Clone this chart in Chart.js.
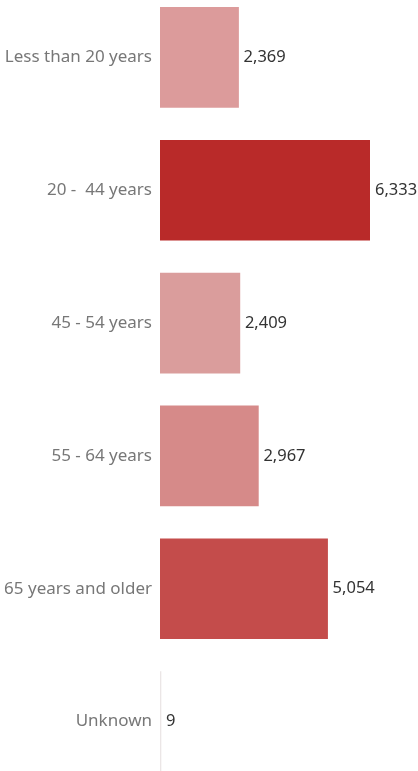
<!DOCTYPE html>
<html>
<head>
<meta charset="utf-8">
<script src="https://cdn.jsdelivr.net/npm/chart.js@4"></script>
<style>
  html, body { margin: 0; padding: 0; background: #fff; overflow: hidden; }
  #wrap { position: absolute; left: 0; top: -9px; width: 418px; height: 797px; }
</style>
</head>
<body>
<div id="wrap"><canvas id="myChart"></canvas></div>
<script>
// age groups and counts
const ageGroups = ['Less than 20 years', '20 -  44 years', '45 - 54 years', '55 - 64 years', '65 years and older', 'Unknown'];
const counts = [2369, 6333, 2409, 2967, 5054, 9];
const barColors = ['#dc9b9b', '#b92a29', '#da9d9c', '#d68a89', '#c44c4b', '#ebe6e6'];

// prints the number just right of each bar
const valueLabels = {
  id: 'valueLabels',
  afterDatasetsDraw(chart) {
    const ctx = chart.ctx;
    const meta = chart.getDatasetMeta(0);
    ctx.save();
    ctx.font = '16.5px "Noto Sans"';
    ctx.fillStyle = '#333333';
    ctx.textAlign = 'left';
    ctx.textBaseline = 'middle';
    meta.data.forEach((bar, i) => {
      ctx.fillText(counts[i].toLocaleString('en-US'), bar.x + 5, bar.y);
    });
    ctx.restore();
  }
};

window.addEventListener('load', setup);

function setup(){
  const ctx = document.getElementById('myChart').getContext('2d');
  new Chart(ctx, {
    type: 'bar',
    data: {
      labels: ageGroups,
      datasets: [{
        data: counts,
        backgroundColor: barColors,
        borderWidth: 0,
        barThickness: 100,
        minBarLength: 1
      }]
    },
    options: {
      indexAxis: 'y',
      responsive: true,
      maintainAspectRatio: false,
      animation: false,
      layout: { padding: { right: 48, top: 0, bottom: 0, left: 0 } },
      plugins: { legend: { display: false }, tooltip: { enabled: false } },
      scales: {
        x: {
          display: false,
          min: 0,
          max: 6333
        },
        y: {
          grid: { display: false, drawTicks: false },
          border: { display: false },
          ticks: {
            color: '#777777',
            font: { family: '"Noto Sans"', size: 17 },
            padding: 8
          },
          afterFit(scale) {
            scale.width = 160;
            // no extra room above/below for the first and last labels
            scale.paddingTop = 0;
            scale.paddingBottom = 0;
          }
        }
      }
    },
    plugins: [valueLabels]
  });
}
</script>
</body>
</html>
